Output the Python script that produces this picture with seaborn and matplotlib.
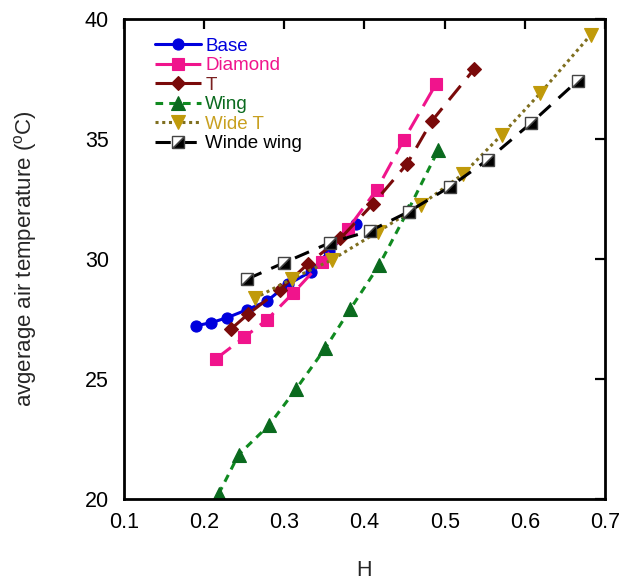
import matplotlib
matplotlib.use("Agg")
import matplotlib.pyplot as plt
import seaborn as sns
import pandas as pd
from matplotlib.markers import MarkerStyle
from matplotlib.transforms import Affine2D

# ---- data ----
base_x = [0.190, 0.209, 0.229, 0.253, 0.278, 0.304, 0.333, 0.356, 0.390]
base_y = [27.22, 27.35, 27.56, 27.88, 28.24, 28.94, 29.47, 30.33, 31.47]

diamond_x = [0.215, 0.250, 0.278, 0.311, 0.347, 0.379, 0.415, 0.449, 0.489]
diamond_y = [25.85, 26.74, 27.46, 28.58, 29.88, 31.24, 32.88, 34.96, 37.28]

t_x = [0.233, 0.255, 0.294, 0.330, 0.370, 0.411, 0.453, 0.484, 0.537]
t_y = [27.07, 27.71, 28.71, 29.81, 30.86, 32.31, 33.96, 35.75, 37.92]

wing_x = [0.218, 0.243, 0.281, 0.315, 0.351, 0.382, 0.418, 0.454, 0.492]
wing_y = [20.21, 21.85, 23.08, 24.60, 26.28, 27.90, 29.73, 32.00, 34.54]

widet_x = [0.263, 0.310, 0.359, 0.417, 0.470, 0.523, 0.571, 0.619, 0.682]
widet_y = [28.36, 29.18, 29.96, 31.14, 32.25, 33.54, 35.17, 36.90, 39.33]

windewing_x = [0.254, 0.300, 0.357, 0.407, 0.455, 0.507, 0.554, 0.608, 0.666]
windewing_y = [29.17, 29.85, 30.68, 31.17, 31.97, 33.02, 34.14, 35.67, 37.43]

labels = ["Base", "Diamond", "T", "Wing", "Wide T", "Winde wing"]
x_ticks = [0.1, 0.2, 0.3, 0.4, 0.5, 0.6, 0.7]
y_ticks = [20, 25, 30, 35, 40]

# ---- style ----
sns.set_theme(style="white")
plt.rcParams["font.family"] = ["Liberation Sans", "DejaVu Sans"]
plt.rcParams["mathtext.fontset"] = "custom"
plt.rcParams["mathtext.rm"] = "Liberation Sans"

fig = plt.figure(figsize=(6.21, 5.81), dpi=100)
ax = fig.add_axes([0.1997, 0.1411, 0.9742 - 0.1997, 0.9673 - 0.1411])

half_sq = MarkerStyle("D", fillstyle="right", transform=Affine2D().rotate_deg(-45))

series = [
    dict(x=base_x, y=base_y, label=labels[0], mfc="#0000dd",
         marker="o", ms=8, dashes=None, lc="#0000dd", tc="#0000dd"),
    dict(x=diamond_x, y=diamond_y, label=labels[1], mfc="#f0148c",
         marker="s", ms=8.5, dashes=(6, 3), lc="#f0148c", tc="#f0148c"),
    dict(x=t_x, y=t_y, label=labels[2], mfc="#7a0a0a",
         marker="D", ms=7, dashes=(6, 3.5), lc="#7a0a0a", tc="#7a2020"),
    dict(x=wing_x, y=wing_y, label=labels[3], mfc="#0a6a1e",
         marker="^", ms=9.5, dashes=(2.5, 2), lc="#108a20", tc="#0a6a1e"),
    dict(x=widet_x, y=widet_y, label=labels[4], mfc="#c09a0a",
         marker="v", ms=9.5, dashes=(1, 1.2), lc="#7f6f1f", tc="#c8a020"),
    dict(x=windewing_x, y=windewing_y, label=labels[5], mfc="black",
         marker=half_sq, ms=8, dashes=(5, 3.5), lc="black", tc="black"),
]

for s in series:
    df = pd.DataFrame({"H": s["x"], "T": s["y"]})
    kw = dict(color=s["lc"], linewidth=2.2, marker=s["marker"], markersize=s["ms"],
              markerfacecolor=s["mfc"], markeredgecolor=s["mfc"], markeredgewidth=0.8)
    if s["label"] == "Winde wing":
        kw["markeredgecolor"] = "#444444"
        kw["markerfacecoloralt"] = "white"
        kw["markeredgewidth"] = 1.0
    if s["dashes"] is not None:
        kw["dashes"] = s["dashes"]
    sns.lineplot(data=df, x="H", y="T", ax=ax, label=s["label"], sort=False, **kw)

ax.set_xlim(0.1, 0.7)
ax.set_ylim(20, 40)
ax.set_xticks(x_ticks)
ax.set_xticklabels([f"{v:.1f}" for v in x_ticks])
ax.set_yticks(y_ticks)
ax.set_yticklabels([str(v) for v in y_ticks])
ax.tick_params(direction="in", length=7, width=1.6, top=True, right=True,
               labelsize=15.5, colors="black")
ax.tick_params(axis="y", pad=11)
ax.tick_params(axis="x", pad=9)
for sp in ax.spines.values():
    sp.set_linewidth(2.0)
    sp.set_color("black")

ax.set_xlabel("H", fontsize=15.5, labelpad=20)
ax.set_ylabel(r"avgerage air temperature ($^{\mathrm{o}}$C)", fontsize=16, labelpad=33)

leg = ax.legend(loc="upper left", bbox_to_anchor=(0.04, 0.985), frameon=False,
                fontsize=13.5, handlelength=2.5, handletextpad=0.2,
                labelspacing=0.13, borderaxespad=0.2)
for txt, s in zip(leg.get_texts(), series):
    txt.set_color(s["tc"])

fig.savefig("out.png", dpi=100)
